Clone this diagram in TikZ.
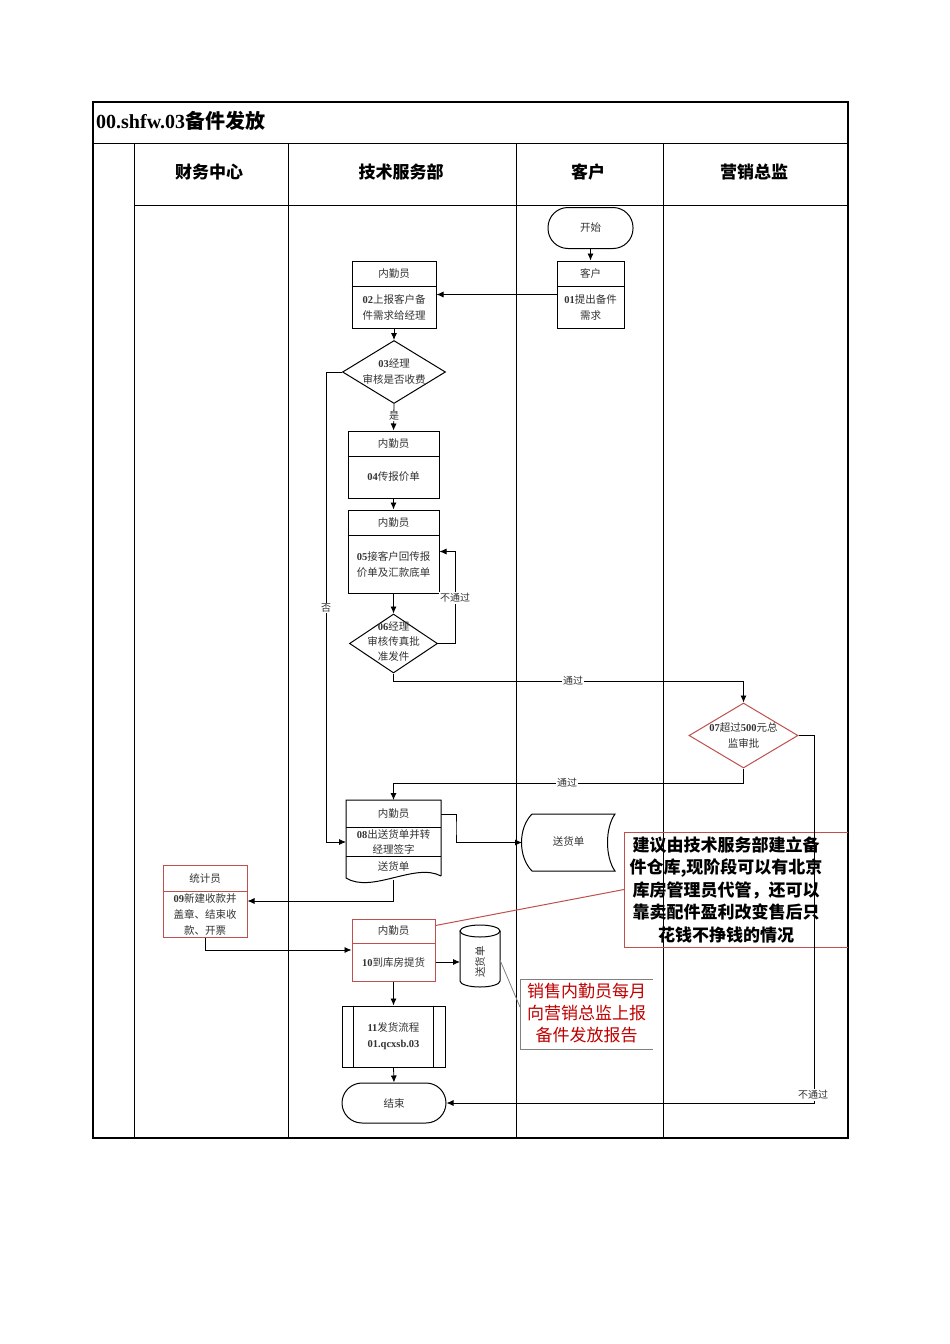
\documentclass[tikz,border=0pt]{standalone}
\usepackage{fontspec}
\setmainfont{Noto Sans CJK SC}
\newfontfamily\lt{Liberation Serif}
\usetikzlibrary{shapes.geometric,arrows.meta,calc}
\definecolor{rb}{HTML}{C0504D}
\definecolor{rt}{HTML}{C00000}
\definecolor{gl}{HTML}{808080}
\definecolor{tx}{HTML}{333333}
\tikzset{
  box/.style={draw,line width=1pt,inner sep=0pt},
  txt/.style={font=\fontsize{10.5}{16}\selectfont,text=tx,align=center,inner sep=0pt},
  fl/.style={line width=0.8pt,-{Latex[length=7pt,width=6pt]}},
  lbl/.style={font=\fontsize{10}{12}\selectfont,fill=white,inner sep=1pt,text=tx},
  hd/.style={font=\fontsize{17}{20}\selectfont\bfseries,inner sep=0pt},
  ghost/.style={inner sep=0pt,outer sep=0pt}
}
\newcommand\mkbox[9]{%
  \node[box,#9,minimum width=#4pt,minimum height=#5pt] (#1) at (#2,#3) {};
  \draw[line width=1pt,#9] ($(#1.north west)+(0,#6)$) -- ($(#1.north east)+(0,#6)$);
  \node[txt] (#1h) at ($(#1.north)+(0,{#6/2})$) {#7};
  \node[txt] (#1b) at ($(#1.north)+(0,{(#6+#5)/2})$) {#8};
}
\begin{document}
\begin{tikzpicture}[x=1pt,y=-1pt]
\useasboundingbox[fill=white] (0,0) rectangle (950,1344);
% frame
\draw[line width=1.2pt] (93,102) rectangle (848,1138);
\draw[line width=1pt] (93,143) -- (848,143);
\draw[line width=1pt] (134,205) -- (848,205);
\foreach \x in {134,288,516,663} \draw[line width=1pt] (\x,143) -- (\x,1138);
\node[anchor=west,inner sep=0pt,font=\fontsize{20}{24}\selectfont\bfseries] (title) at (96,121) {{\lt\bfseries 00.shfw.03}备件发放};
\node[hd] (h1) at (209,172) {财务中心};
\node[hd] (h2) at (401,172) {技术服务部};
\node[hd] (h3) at (588,172) {客户};
\node[hd] (h4) at (754,172) {营销总监};

% start
\node[box,rounded corners=20pt,minimum width=85pt,minimum height=41pt] (start) at (590.5,228) {};
\node[txt] (startt) at (start) {开始};
\mkbox{b01}{590.5}{294.5}{67}{67}{26}{客户}{{\lt\bfseries 01}提出备件\\需求}{draw=black}
\mkbox{b02}{394}{294.5}{84}{67}{26}{内勤员}{{\lt\bfseries 02}上报客户备\\件需求给经理}{draw=black}
% diamond 03
\node[diamond,draw,line width=1pt,minimum width=103pt,minimum height=63pt,inner sep=0pt] (d03) at (394,372) {};
\node[txt] (d03t) at (394,372) {{\lt\bfseries 03}经理\\审核是否收费};
\mkbox{b04}{393.5}{464.5}{91}{67}{26}{内勤员}{{\lt\bfseries 04}传报价单}{draw=black}
\mkbox{b05}{393.5}{551.5}{91}{83}{26}{内勤员}{{\lt\bfseries 05}接客户回传报\\价单及汇款底单}{draw=black}
% diamond 06
\node[diamond,draw,line width=1pt,minimum width=88pt,minimum height=59pt,inner sep=0pt] (d06) at (393.5,643.5) {};
\node[txt,font=\fontsize{10.5}{15}\selectfont] (d06t) at (393.5,642) {{\lt\bfseries 06}经理\\审核传真批\\准发件};
% diamond 07
\node[diamond,draw=rb,line width=1pt,minimum width=109pt,minimum height=65pt,inner sep=0pt] (d07) at (743.5,735.5) {};
\node[txt] (d07t) at (743.5,735.5) {{\lt\bfseries 07}超过{\lt\bfseries 500}元总\\监审批};
% document 08
\node[ghost,minimum width=95pt,minimum height=80pt] (b08) at (393.5,840) {};
\draw[line width=1pt] (441,876) -- (441,800) -- (346,800) -- (346,878)
  .. controls (372,894) and (415,862) .. (441,876);
\draw[line width=1pt] (346,827) -- (441,827);
\draw[line width=1pt] (346,856) -- (441,856);
\node[txt] (b08h) at (393.5,813.5) {内勤员};
\node[txt,font=\fontsize{10.5}{15}\selectfont] (b08b) at (393.5,841.5) {{\lt\bfseries 08}出送货单并转\\经理签字};
\node[txt] (b08c) at (393.5,866) {送货单};
% stored data
\node[ghost,minimum width=93pt,minimum height=57pt] (ds) at (568.5,842.5) {};
\draw[line width=1pt] (532,814) -- (615,814) .. controls (605,828) and (605,857) .. (615,871)
  -- (532,871) .. controls (518,857) and (518,828) .. (532,814);
\node[txt] (dst) at (568.5,841) {送货单};
\mkbox{b09}{205}{901}{84}{72}{27}{统计员}{\fontsize{10.5}{15}\selectfont{\lt\bfseries 09}新建收款并\\盖章、结束收\\款、开票}{draw=rb}
\mkbox{b10}{393.5}{950}{83}{62}{25}{内勤员}{{\lt\bfseries 10}到库房提货}{draw=rb}
% cylinder
\node[ghost,minimum width=40pt,minimum height=62pt] (cyl) at (480,956) {};
\draw[line width=1pt] (460,931) -- (460,981) arc[start angle=180,end angle=360,x radius=20pt,y radius=6pt] -- (500,931);
\draw[line width=1pt] (480,931) ellipse [x radius=20pt,y radius=6pt];
\node[txt,rotate=90] (cylt) at (480,962) {送货单};
% 11
\node[box,minimum width=103pt,minimum height=61pt] (b11) at (393.5,1036.5) {};
\draw[line width=1pt] ($(b11.north west)+(12,0)$) -- ($(b11.south west)+(12,0)$);
\draw[line width=1pt] ($(b11.north east)+(-12,0)$) -- ($(b11.south east)+(-12,0)$);
\node[txt] (b11t) at (b11) {{\lt\bfseries 11}发货流程\\{\lt\bfseries 01.qcxsb.03}};
% end
\node[box,rounded corners=20pt,minimum width=104pt,minimum height=40pt] (end) at (394,1103) {};
\node[txt] (endt) at (end) {结束};
% notes
\node[ghost,minimum width=224pt,minimum height=115pt] (note1) at (736,889.5) {};
\draw[rb,line width=1pt] (848,832) -- (624,832) -- (624,947) -- (848,947);
\node[align=center,inner sep=0pt,font=\fontsize{17}{22.5}\selectfont\bfseries] (note1t) at (726,889.5)
  {建议由技术服务部建立备\\件仓库,现阶段可以有北京\\库房管理员代管，还可以\\靠卖配件盈利改变售后只\\花钱不挣钱的情况};
\node[ghost,minimum width=133pt,minimum height=70pt] (note2) at (586.5,1014) {};
\draw[gl,line width=1pt] (653,979) -- (520,979) -- (520,1049) -- (653,1049);
\node[align=center,inner sep=0pt,text=rt,font=\fontsize{17}{22}\selectfont] (note2t) at (586.5,1013)
  {销售内勤员每月\\向营销总监上报\\备件发放报告};

% connectors
\draw[fl] (start.south) -- (b01.north);
\draw[fl] (b01.west) -- (b02.east);
\draw[fl] (b02.south) -- (d03.north);
\draw[fl] (d03.south) -- (b04.north);
\node[lbl] (lyes) at (394,416) {是};
\coordinate (noc) at (326,842);
\draw[fl] (d03.west) -| (noc) -- (noc -| b08.west);
\node[lbl] (lno) at (326,608) {否};
\draw[fl] (b04.south) -- (b05.north);
\draw[fl] (b05.south) -- (d06.north);
\coordinate (loopc) at (455,551.5);
\draw[fl] (d06.east) -| (loopc) -- (b05.east);
\node[lbl] (lnp1) at (455,598) {不通过};
\coordinate (p1) at (393.5,681);
\draw[fl] (d06.south) -- (p1) -| (d07.north);
\node[lbl] (lp1) at (573,681) {通过};
\coordinate (p2) at (743.5,783);
\draw[fl] (d07.south) -- (p2) -| (b08.north);
\node[lbl] (lp2) at (567,783) {通过};
\coordinate (fc) at (814,1103);
\draw[fl] (d07.east) -| (fc) -- (end.east);
\node[lbl] (lnp2) at (813,1095) {不通过};
\coordinate (c08) at (456,828);
\draw[fl] ($(b08.north east)+(0,14)$) -| (c08) |- (ds.west);
\draw[fl] (b08.south) |- (b09.east);
\draw[fl] (b09.south) |- (b10.west);
\draw[fl] (b10.east |- b10b) -- (cyl.west |- b10b);
\draw[fl] (b10.south) -- (b11.north);
\draw[fl] (b11.south) -- (end.north);
\draw[rb,line width=1pt] ($(b10.north east)+(0,7)$) -- (note1.west);
\draw[gl,line width=0.8pt] ($(cyl.east)+(0,4)$) -- ($(note2.west)+(0,-7)$);
\end{tikzpicture}
\end{document}
